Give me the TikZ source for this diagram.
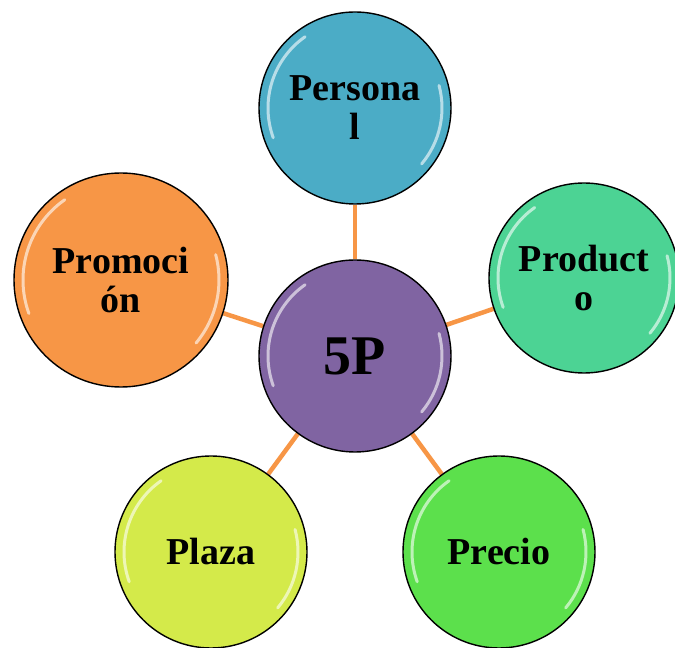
\documentclass[tikz,border=0pt]{standalone}
\usepackage{fontspec}
\setmainfont{Liberation Serif}
\usetikzlibrary{backgrounds}
\definecolor{cPersona}{HTML}{4BACC6}
\definecolor{cCenter}{HTML}{8064A2}
\definecolor{cProducto}{HTML}{4CD394}
\definecolor{cPromo}{HTML}{F79646}
\definecolor{cPlaza}{HTML}{D4EA4A}
\definecolor{cPrecio}{HTML}{5CE04C}
\definecolor{cLink}{HTML}{F79646}
\tikzset{
  ball/.style={circle, draw=black, line width=1.4pt, inner sep=0pt, align=center,
    font=\bfseries\fontsize{38}{39}\selectfont, text=black, minimum size=#1,
    path picture={
      \draw[white, opacity=.6, line width=3pt, line cap=round]
        ([shift={(125:0.5*#1-9pt)}]path picture bounding box.center)
        arc[start angle=125, end angle=200, radius=0.5*#1-9pt];
      \draw[white, opacity=.6, line width=3pt, line cap=round]
        ([shift={(-40:0.5*#1-9pt)}]path picture bounding box.center)
        arc[start angle=-40, end angle=15, radius=0.5*#1-9pt];
    }},
  link/.style={draw=cLink, line width=4.5pt}
}
\begin{document}
\begin{tikzpicture}[x=1pt,y=1pt]
\useasboundingbox (0,0) rectangle (675,648);
\clip (0,0) rectangle (675,648);
\node[ball=192pt, fill=cCenter, font=\bfseries\fontsize{56}{60}\selectfont] (c) at (355,292) {5P};
\node[ball=192pt, fill=cPersona] (persona) at (355,540) {Persona\\l};
\node[ball=190pt, fill=cProducto] (producto) at (584,370) {Product\\o};
\node[ball=192pt, fill=cPrecio] (precio) at (499,96) {Precio};
\node[ball=192pt, fill=cPlaza] (plaza) at (211,96) {Plaza};
\node[ball=214pt, fill=cPromo] (promocion) at (121,368) {Promoci\\ón};
\begin{scope}[on background layer]
\draw[link] (c) -- (persona);
\draw[link] (c) -- (producto);
\draw[link] (c) -- (precio);
\draw[link] (c) -- (plaza);
\draw[link] (c) -- (promocion);
\end{scope}
\end{tikzpicture}
\end{document}
